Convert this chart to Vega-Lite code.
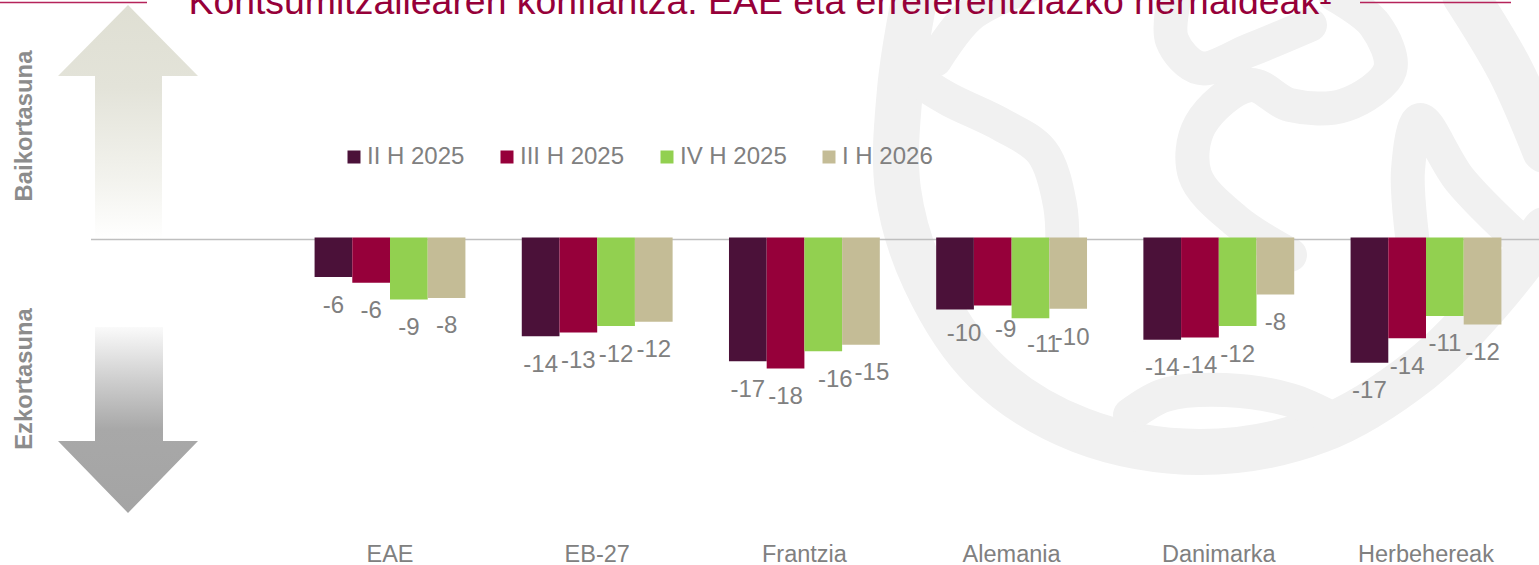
{
"$schema":"https://vega.github.io/schema/vega-lite/v6.json",
"width":1539,"height":565,"padding":0,"autosize":{"type":"none"},
"background":"white",
"config":{"view":{"stroke":null},"font":"Liberation Sans"},
"datasets":{
"bars":[
{"region":"EAE","period":"II H 2025","value":-5.5,"label":"-6"},{"region":"EAE","period":"III H 2025","value":-6.3,"label":"-6"},{"region":"EAE","period":"IV H 2025","value":-8.6,"label":"-9"},{"region":"EAE","period":"I H 2026","value":-8.4,"label":"-8"},
{"region":"EB-27","period":"II H 2025","value":-13.7,"label":"-14"},{"region":"EB-27","period":"III H 2025","value":-13.2,"label":"-13"},{"region":"EB-27","period":"IV H 2025","value":-12.3,"label":"-12"},{"region":"EB-27","period":"I H 2026","value":-11.7,"label":"-12"},
{"region":"Frantzia","period":"II H 2025","value":-17.2,"label":"-17"},{"region":"Frantzia","period":"III H 2025","value":-18.2,"label":"-18"},{"region":"Frantzia","period":"IV H 2025","value":-15.8,"label":"-16"},{"region":"Frantzia","period":"I H 2026","value":-14.9,"label":"-15"},
{"region":"Alemania","period":"II H 2025","value":-10,"label":"-10"},{"region":"Alemania","period":"III H 2025","value":-9.45,"label":"-9"},{"region":"Alemania","period":"IV H 2025","value":-11.2,"label":"-11"},{"region":"Alemania","period":"I H 2026","value":-9.9,"label":"-10"},
{"region":"Danimarka","period":"II H 2025","value":-14.2,"label":"-14"},{"region":"Danimarka","period":"III H 2025","value":-13.9,"label":"-14"},{"region":"Danimarka","period":"IV H 2025","value":-12.3,"label":"-12"},{"region":"Danimarka","period":"I H 2026","value":-7.9,"label":"-8"},
{"region":"Herbehereak","period":"II H 2025","value":-17.4,"label":"-17"},{"region":"Herbehereak","period":"III H 2025","value":-14,"label":"-14"},{"region":"Herbehereak","period":"IV H 2025","value":-10.9,"label":"-11"},{"region":"Herbehereak","period":"I H 2026","value":-12.1,"label":"-12"}
],
"swirl":[
{"p":"a","i":1,"u":1030,"v":-15},{"p":"a","i":2,"u":970,"v":15},{"p":"a","i":3,"u":935,"v":60},
{"p":"s","i":1,"u":925,"v":85},{"p":"s","i":2,"u":950,"v":100},{"p":"s","i":3,"u":1002,"v":125},{"p":"s","i":4,"u":1042,"v":152},{"p":"s","i":5,"u":1060,"v":205},{"p":"s","i":6,"u":1062,"v":260},
{"p":"c","i":1,"u":1290,"v":255},{"p":"c","i":2,"u":1235,"v":220},{"p":"c","i":3,"u":1195,"v":175},{"p":"c","i":4,"u":1200,"v":125},{"p":"c","i":5,"u":1250,"v":85},{"p":"c","i":6,"u":1290,"v":105},{"p":"c","i":7,"u":1345,"v":105},{"p":"c","i":8,"u":1390,"v":70},{"p":"c","i":9,"u":1375,"v":25},{"p":"c","i":10,"u":1335,"v":-5},
{"p":"b","i":1,"u":1175,"v":-5},{"p":"b","i":2,"u":1172,"v":40},{"p":"b","i":3,"u":1200,"v":68},{"p":"b","i":4,"u":1250,"v":50},{"p":"b","i":5,"u":1310,"v":25},
{"p":"d","i":1,"u":1415,"v":260},{"p":"d","i":2,"u":1408,"v":170},{"p":"d","i":3,"u":1420,"v":120},{"p":"d","i":4,"u":1460,"v":180},{"p":"d","i":5,"u":1530,"v":250},
{"p":"e","i":1,"u":1130,"v":415},{"p":"e","i":2,"u":1165,"v":395},{"p":"e","i":3,"u":1225,"v":390},{"p":"e","i":4,"u":1290,"v":400},{"p":"e","i":5,"u":1335,"v":420}
],
"ring":[
{"p":"l","i":1,"u":915,"v":-5},{"p":"l","i":2,"u":900,"v":90},{"p":"l","i":3,"u":898,"v":190},{"p":"l","i":4,"u":925,"v":280},{"p":"l","i":5,"u":985,"v":370},{"p":"l","i":6,"u":1080,"v":430},{"p":"l","i":7,"u":1200,"v":452},{"p":"l","i":8,"u":1320,"v":430},{"p":"l","i":9,"u":1420,"v":370},{"p":"l","i":10,"u":1490,"v":300},{"p":"l","i":11,"u":1545,"v":230},
{"p":"r","i":1,"u":1465,"v":-5},{"p":"r","i":2,"u":1510,"v":70},{"p":"r","i":3,"u":1545,"v":150}
]
},
"layer":[
{"encoding":{
"x":{"field":"u","type":"quantitative","scale":{"domain":[0,1539],"range":[0,1539],"nice":false,"zero":false},"axis":null},
"y":{"field":"v","type":"quantitative","scale":{"domain":[0,565],"range":[0,565],"nice":false,"zero":false},"axis":null}},
"layer":[
{"data":{"name":"ring"},"mark":{"type":"line","interpolate":"catmull-rom","stroke":"#f1f1f1","strokeWidth":46,"strokeCap":"round","strokeJoin":"round"},"encoding":{"detail":{"field":"p"},"order":{"field":"i","type":"quantitative"}}},
{"data":{"name":"swirl"},"mark":{"type":"line","interpolate":"catmull-rom","stroke":"#f1f1f1","strokeWidth":34,"strokeCap":"round","strokeJoin":"round"},"encoding":{"detail":{"field":"p"},"order":{"field":"i","type":"quantitative"}}},
{"data":{"values":[{"u":128,"v":122.5}]},"mark":{"type":"point","filled":true,"opacity":1,"size":40000,"strokeWidth":0,"shape":"M0,-1.175L0.7,-0.465L0.34,-0.465L0.34,1.175L-0.33,1.175L-0.33,-0.465L-0.7,-0.465Z","fill":{"gradient":"linear","x1":0,"y1":0,"x2":0,"y2":1,"stops":[{"offset":0,"color":"#dfdfd3"},{"offset":0.35,"color":"#e3e3d9"},{"offset":0.75,"color":"#f3f3ee"},{"offset":1,"color":"#ffffff"}]}}},
{"data":{"values":[{"u":128,"v":420}]},"mark":{"type":"point","filled":true,"opacity":1,"size":40000,"strokeWidth":0,"shape":"M-0.33,-0.93L0.35,-0.93L0.35,0.21L0.7,0.21L0,0.93L-0.7,0.21L-0.33,0.21Z","fill":{"gradient":"linear","x1":0,"y1":0,"x2":0,"y2":1,"stops":[{"offset":0,"color":"#fafafa"},{"offset":0.3,"color":"#cccccc"},{"offset":0.55,"color":"#a8a8a8"},{"offset":1,"color":"#a4a4a4"}]}}},
{"data":{"values":[{"u":91,"u2":1539,"v":239.5}]},"mark":{"type":"rule","stroke":"#bfbfbf","strokeWidth":1.5},"encoding":{"x2":{"field":"u2"}}},
{"data":{"values":[{"u":0,"u2":147,"v":2.5},{"u":1360,"u2":1511,"v":2.5}]},"mark":{"type":"rule","stroke":"#b5235a","strokeWidth":1.5},"encoding":{"x2":{"field":"u2"}}},
{"data":{"values":[{"u":760,"v":14,"t":"Kontsumitzailearen konfiantza. EAE eta erreferentziazko herrialdeak¹"}]},"mark":{"type":"text","align":"center","baseline":"alphabetic","fontSize":37.4,"color":"#960039"},"encoding":{"text":{"field":"t"}}},
{"data":{"values":[{"u":32,"v":126,"t":"Baikortasuna"},{"u":32,"v":379,"t":"Ezkortasuna"}]},"mark":{"type":"text","angle":270,"align":"center","baseline":"alphabetic","fontSize":23.8,"fontWeight":"bold","color":"#8c8c8c"},"encoding":{"text":{"field":"t"}}}
]},
{"data":{"name":"bars"},
"encoding":{
"x":{"field":"region","type":"nominal","sort":null,"scale":{"domain":["EAE","EB-27","Frantzia","Alemania","Danimarka","Herbehereak"],"range":[286.4,1529.6],"paddingInner":0.272,"paddingOuter":0.136},"axis":{"title":null,"domain":false,"ticks":false,"labelAngle":0,"labelFontSize":23.5,"labelColor":"#808080","labelPadding":-23,"labelBaseline":"top","grid":false}},
"xOffset":{"field":"period","type":"nominal","sort":null,"scale":{"domain":["II H 2025","III H 2025","IV H 2025","I H 2026"]}},
"y":{"field":"value","type":"quantitative","scale":{"domain":[-45.486,32.986],"nice":false,"zero":false},"axis":null}},
"layer":[
{"mark":{"type":"bar"},"encoding":{"y2":{"datum":0},"color":{"field":"period","type":"nominal","sort":null,"scale":{"domain":["II H 2025","III H 2025","IV H 2025","I H 2026"],"range":["#4b1139","#96003a","#92d050","#c4bc96"]},"legend":{"title":null,"orient":"none","legendX":342,"legendY":145,"direction":"horizontal","columns":4,"gridAlign":"none","symbolType":"square","symbolSize":169,"symbolStrokeWidth":0,"labelFontSize":24,"labelColor":"#808080","labelOffset":1,"columnPadding":30}}}},
{"transform":[{"filter":"datum.region!='Alemania'&&!(datum.region=='Frantzia'&&(datum.period=='IV H 2025'||datum.period=='I H 2026'))"}],"mark":{"type":"text","fontSize":24,"color":"#808080","dy":28.5,"baseline":"middle"},"encoding":{"text":{"field":"label","type":"nominal"}}},
{"transform":[{"filter":"datum.region=='Frantzia'&&datum.period=='IV H 2025'"}],"mark":{"type":"text","fontSize":24,"color":"#808080","dy":28.5,"dx":12,"baseline":"middle"},"encoding":{"text":{"field":"label","type":"nominal"}}},
{"transform":[{"filter":"datum.region=='Frantzia'&&datum.period=='I H 2026'"}],"mark":{"type":"text","fontSize":24,"color":"#808080","dy":28.5,"dx":11,"baseline":"middle"},"encoding":{"text":{"field":"label","type":"nominal"}}},
{"transform":[{"filter":"datum.region=='Alemania'&&datum.period=='II H 2025'"}],"mark":{"type":"text","fontSize":24,"color":"#808080","dy":24,"dx":9,"baseline":"middle"},"encoding":{"text":{"field":"label","type":"nominal"}}},
{"transform":[{"filter":"datum.region=='Alemania'&&datum.period=='III H 2025'"}],"mark":{"type":"text","fontSize":24,"color":"#808080","dy":24,"dx":13,"baseline":"middle"},"encoding":{"text":{"field":"label","type":"nominal"}}},
{"transform":[{"filter":"datum.region=='Alemania'&&datum.period=='IV H 2025'"}],"mark":{"type":"text","fontSize":24,"color":"#808080","dy":27,"dx":13,"baseline":"middle"},"encoding":{"text":{"field":"label","type":"nominal"}}},
{"transform":[{"filter":"datum.region=='Alemania'&&datum.period=='I H 2026'"}],"mark":{"type":"text","fontSize":24,"color":"#808080","dy":29,"dx":4,"baseline":"middle"},"encoding":{"text":{"field":"label","type":"nominal"}}}
]}
],
"resolve":{"scale":{"x":"independent","y":"independent"}}
}
